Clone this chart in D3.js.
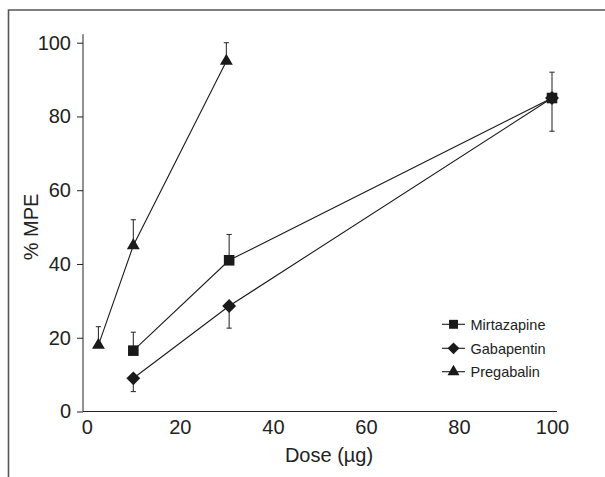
<!DOCTYPE html>
<html lang="en">
<head>
  <meta charset="UTF-8">
  <title>% MPE vs dose</title>
  <style>
    body { margin: 0; background: #fff; }
    text { font-family: "Liberation Sans", Arial, Helvetica, sans-serif; fill: #222; }
  </style>
</head>
<body>
<svg id="chart" width="605" height="477"></svg>
<script src="https://d3js.org/d3.v7.min.js"></script>
<script>
  // values
  const drugs = ["Mirtazapine", "Gabapentin", "Pregabalin"];
  const mirtDose = [10, 30.6, 100];
  const mirtMPE  = [16.5, 41, 85];
  const mirtErr  = [5, 7, 7];        // drawn upward
  const gabaDose = [10, 30.6, 100];
  const gabaMPE  = [9, 28.6, 85];
  const gabaErr  = [3.6, 6, 9];      // drawn downward
  const pregDose = [2.5, 10, 30];
  const pregMPE  = [18, 45, 95];
  const pregErr  = [5, 7, 5];        // drawn upward
  const xTicks = [0, 20, 40, 60, 80, 100];
  const yTicks = [0, 20, 40, 60, 80, 100];

  const svg = d3.select("#chart");
  const x = d3.scaleLinear().domain([0, 100]).range([86.8, 552]);
  const y = d3.scaleLinear().domain([0, 100]).range([411.5, 42.7]);

  // frame (top and left edges only)
  svg.append("path")
    .attr("d", "M8.5,477V10H605")
    .attr("fill", "none").attr("stroke", "#555").attr("stroke-width", 1.6);

  // y axis
  const yAxis = svg.append("g").attr("transform", "translate(83,0)")
    .call(d3.axisLeft(y).tickValues(yTicks).tickSize(6).tickPadding(6));
  yAxis.select(".domain").remove();
  yAxis.append("line").attr("x1", 0).attr("x2", 0).attr("y1", y(102.3)).attr("y2", 411.5)
    .attr("stroke", "#222");
  yAxis.selectAll(".tick line").attr("stroke", "#222");
  yAxis.selectAll(".tick text").attr("font-size", 20).attr("fill", "#222")
    .style("font-family", "Liberation Sans, Arial, sans-serif");

  // x axis (no tick marks)
  const xAxis = svg.append("g").attr("transform", "translate(0,411.5)")
    .call(d3.axisBottom(x).tickValues(xTicks).tickSize(0).tickPadding(8));
  xAxis.select(".domain").remove();
  xAxis.append("line").attr("x1", 83).attr("x2", 557).attr("y1", 0).attr("y2", 0)
    .attr("stroke", "#222");
  xAxis.selectAll(".tick text").attr("font-size", 20).attr("fill", "#222")
    .style("font-family", "Liberation Sans, Arial, sans-serif");

  // axis titles
  svg.append("text").attr("x", 329).attr("y", 462).attr("text-anchor", "middle")
    .attr("font-size", 20).text("Dose (µg)");
  svg.append("text").attr("transform", "translate(38,227) rotate(-90)")
    .attr("text-anchor", "middle").attr("font-size", 20).text("% MPE");

  const series = [
    { name: drugs[0], dose: mirtDose, mpe: mirtMPE, err: mirtErr, dir: 1,
      sym: d3.symbol().type(d3.symbolSquare).size(112), rot: 0 },
    { name: drugs[1], dose: gabaDose, mpe: gabaMPE, err: gabaErr, dir: -1,
      sym: d3.symbol().type(d3.symbolSquare).size(96), rot: 45 },
    { name: drugs[2], dose: pregDose, mpe: pregMPE, err: pregErr, dir: 1,
      sym: d3.symbol().type(d3.symbolTriangle).size(72), rot: 0 }
  ];

  const line = d3.line().x(d => x(d[0])).y(d => y(d[1]));

  // connecting lines
  series.forEach(s => {
    svg.append("path")
      .attr("d", line(s.dose.map((d, i) => [d, s.mpe[i]])))
      .attr("fill", "none").attr("stroke", "#1a1a1a").attr("stroke-width", 1.1);
  });

  // one-sided error bars
  series.forEach(s => {
    s.dose.forEach((d, i) => {
      const end = s.mpe[i] + s.dir * s.err[i];
      svg.append("line").attr("x1", x(d)).attr("x2", x(d))
        .attr("y1", y(s.mpe[i])).attr("y2", y(end))
        .attr("stroke", "#333").attr("stroke-width", 1.1);
      svg.append("line").attr("x1", x(d) - 2.6).attr("x2", x(d) + 2.6)
        .attr("y1", y(end)).attr("y2", y(end))
        .attr("stroke", "#333").attr("stroke-width", 1.1);
    });
  });

  // markers
  series.forEach(s => {
    s.dose.forEach((d, i) => {
      svg.append("path").attr("d", s.sym())
        .attr("transform", `translate(${x(d)},${y(s.mpe[i])}) rotate(${s.rot})`)
        .attr("fill", "#1a1a1a");
    });
  });

  // legend
  const legY = [324.3, 348.3, 371.7];
  const legSym = [
    d3.symbol().type(d3.symbolSquare).size(80),
    d3.symbol().type(d3.symbolSquare).size(70),
    d3.symbol().type(d3.symbolTriangle).size(62)
  ];
  series.forEach((s, i) => {
    const g = svg.append("g").attr("transform", `translate(0,${legY[i]})`);
    g.append("line").attr("x1", 442).attr("x2", 465).attr("y1", 0).attr("y2", 0)
      .attr("stroke", "#1a1a1a").attr("stroke-width", 1.1);
    g.append("path").attr("d", legSym[i]())
      .attr("transform", `translate(453.5,0) rotate(${s.rot})`).attr("fill", "#1a1a1a");
    g.append("text").attr("x", 470.5).attr("dy", "0.36em").attr("font-size", 14.5)
      .text(s.name);
  });
</script>
</body>
</html>
